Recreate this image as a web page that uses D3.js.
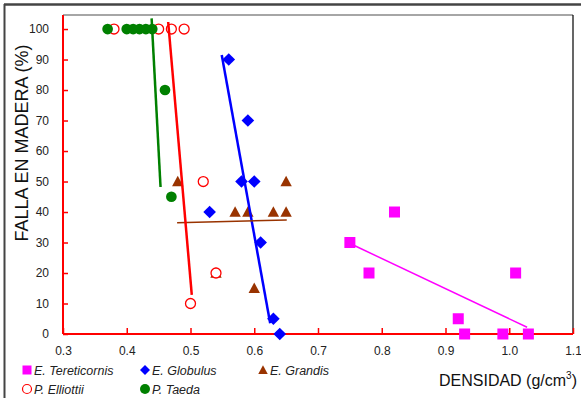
<!DOCTYPE html>
<html>
<head>
<meta charset="utf-8">
<script src="https://cdn.jsdelivr.net/npm/d3@7"></script>
<style>
  html, body { margin: 0; padding: 0; background: #fff; }
  svg { display: block; font-family: "Liberation Sans", Arial, sans-serif; }
</style>
</head>
<body>
<svg id="chart" width="581" height="398"></svg>
<script>
// Wood failure (%) against density (g/cm3) for five species
const xTicks = [0.3, 0.4, 0.5, 0.6, 0.7, 0.8, 0.9, 1.0, 1.1];
const yTicks = [0, 10, 20, 30, 40, 50, 60, 70, 80, 90, 100];

const tereticornisX = [0.75, 0.78, 0.82, 0.92, 0.93, 0.99, 1.01, 1.03];
const tereticornisY = [30, 20, 40, 5, 0, 0, 20, 0];

const globulusX = [0.56, 0.59, 0.58, 0.60, 0.53, 0.61, 0.63, 0.64];
const globulusY = [90, 70, 50, 50, 40, 30, 5, 0];

const grandisX = [0.48, 0.65, 0.57, 0.59, 0.63, 0.65, 0.54, 0.60];
const grandisY = [50, 50, 40, 40, 40, 40, 20, 15];

const elliottiiX = [0.38, 0.45, 0.47, 0.49, 0.52, 0.54, 0.50];
const elliottiiY = [100, 100, 100, 100, 50, 20, 10];

const taedaX = [0.37, 0.40, 0.41, 0.42, 0.43, 0.44, 0.46, 0.47];
const taedaY = [100, 100, 100, 100, 100, 100, 80, 45];

// trend line end points [x, y]
const trendTereticornis = [[0.752, 29.5], [1.028, 2.2]];
const trendGlobulus = [[0.549, 91.5], [0.625, 3.5]];
const trendGrandis = [[0.479, 36.5], [0.651, 37.4]];
const trendElliottii = [[0.465, 102.3], [0.502, 12.8]];
const trendTaeda = [[0.439, 103.5], [0.453, 48.2]];

const svg = d3.select("#chart");
const x = d3.scaleLinear().domain([0.3, 1.1]).range([63, 573]);
const y = d3.scaleLinear().domain([0, 104.6]).range([334, 15]);

// outer frame
svg.append("line").attr("x1", 4).attr("x2", 581).attr("y1", 4.5).attr("y2", 4.5)
  .attr("stroke", "#444").attr("stroke-width", 2.5);
svg.append("line").attr("x1", 4.5).attr("x2", 4.5).attr("y1", 4).attr("y2", 398)
  .attr("stroke", "#444").attr("stroke-width", 2);

// plot box: grey top, black right
svg.append("line").attr("x1", 63).attr("x2", 573).attr("y1", 15).attr("y2", 15)
  .attr("stroke", "#888").attr("stroke-width", 1.5);
svg.append("line").attr("x1", 573).attr("x2", 573).attr("y1", 15).attr("y2", 334)
  .attr("stroke", "#000").attr("stroke-width", 1.2);

// axes
const xAxis = d3.axisBottom(x).tickValues(xTicks).tickFormat(d3.format(".1f"))
  .tickSizeInner(-6).tickSizeOuter(0).tickPadding(12);
const gx = svg.append("g").attr("transform", "translate(0,334)").call(xAxis);
const yAxis = d3.axisLeft(y).tickValues(yTicks).tickFormat(d3.format("d"))
  .tickSizeInner(-5).tickSizeOuter(0).tickPadding(14);
const gy = svg.append("g").attr("transform", "translate(63,0)").call(yAxis);
[gx, gy].forEach(g => {
  g.select(".domain").attr("stroke", "#ff0000").attr("stroke-width", 2);
  g.selectAll(".tick line").attr("stroke", "#ff0000").attr("stroke-width", 1.5);
  g.selectAll(".tick text").attr("fill", "#222").style("font-size", "12px")
    .style("font-family", "Liberation Sans, Arial, sans-serif");
});
gy.select(".domain").attr("d", `M0,${y(0)}V15`);
gx.select(".domain").attr("d", `M${x(0.3)},0H${x(1.1)}`);

// axis titles
svg.append("text").attr("transform", "translate(28,143) rotate(-90)")
  .attr("text-anchor", "middle").attr("fill", "#111").style("font-size", "18px")
  .text("FALLA EN MADERA (%)");
const xt = svg.append("text").attr("x", 577).attr("y", 386).attr("text-anchor", "end")
  .attr("fill", "#111").style("font-size", "16px");
xt.append("tspan").text("DENSIDAD (g/cm");
xt.append("tspan").attr("dy", -7).style("font-size", "10px").text("3");
xt.append("tspan").attr("dy", 7).text(")");

const zip = (xs, ys) => xs.map((v, i) => [v, ys[i]]);
const plot = svg.append("g");

// markers
function squares(data, color) {
  plot.selectAll(null).data(data).enter().append("rect")
    .attr("x", d => x(d[0]) - 5.5).attr("y", d => y(d[1]) - 5.5)
    .attr("width", 11).attr("height", 11).attr("fill", color);
}
function symbols(data, type, size, fill, stroke) {
  plot.selectAll(null).data(data).enter().append("path")
    .attr("d", d3.symbol().type(type).size(size))
    .attr("transform", d => `translate(${x(d[0])},${y(d[1])})`)
    .attr("fill", fill).attr("stroke", stroke || "none").attr("stroke-width", 1.3);
}
const diamond = { draw(ctx, s) { const r = Math.sqrt(s) / 2; ctx.moveTo(0, -r); ctx.lineTo(r, 0); ctx.lineTo(0, r); ctx.lineTo(-r, 0); ctx.closePath(); } };
const tri = { draw(ctx, s) { const w = Math.sqrt(s) / 2; ctx.moveTo(0, -w); ctx.lineTo(w, w * 0.85); ctx.lineTo(-w, w * 0.85); ctx.closePath(); } };

squares(zip(tereticornisX, tereticornisY), "#ff00ff");
symbols(zip(globulusX, globulusY), diamond, 160, "#0000ff");
symbols(zip(grandisX, grandisY), tri, 130, "#993300");
symbols(zip(elliottiiX, elliottiiY), d3.symbolCircle, 78, "#fff", "#ff0000");
symbols(zip(taedaX, taedaY), d3.symbolCircle, 90, "#008000");

// trend lines
const line = d3.line().x(d => x(d[0])).y(d => y(d[1]));
[[trendTereticornis, "#ff00ff", 1.5], [trendGlobulus, "#0000ff", 2.5],
 [trendGrandis, "#993300", 1.5], [trendElliottii, "#ff0000", 2.5],
 [trendTaeda, "#008000", 2.5]].forEach(([pts, c, w]) => {
  plot.append("path").attr("d", line(pts)).attr("fill", "none")
    .attr("stroke", c).attr("stroke-width", w);
});

// legend
const legendItems = [
  { name: "E. Tereticornis", kind: "square", color: "#ff00ff", lx: 27, ly: 370 },
  { name: "E. Globulus", kind: "diamond", color: "#0000ff", lx: 145, ly: 370 },
  { name: "E. Grandis", kind: "tri", color: "#993300", lx: 263, ly: 370 },
  { name: "P. Elliottii", kind: "open", color: "#ff0000", lx: 27, ly: 389 },
  { name: "P. Taeda", kind: "dot", color: "#008000", lx: 145, ly: 389 }
];
const leg = svg.append("g");
legendItems.forEach(it => {
  const g = leg.append("g").attr("transform", `translate(${it.lx},${it.ly})`);
  if (it.kind === "square") g.append("rect").attr("x", -4.5).attr("y", -4.5).attr("width", 9).attr("height", 9).attr("fill", it.color);
  if (it.kind === "diamond") g.append("path").attr("d", d3.symbol().type(diamond).size(100)()).attr("fill", it.color);
  if (it.kind === "tri") g.append("path").attr("d", d3.symbol().type(tri).size(90)()).attr("fill", it.color);
  if (it.kind === "open") g.append("circle").attr("r", 4.5).attr("fill", "#fff").attr("stroke", it.color).attr("stroke-width", 1.2);
  if (it.kind === "dot") g.append("circle").attr("r", 5).attr("fill", it.color);
  g.append("text").attr("x", 7).attr("y", 4.5).attr("fill", "#222")
    .style("font-size", "12.5px").style("font-style", "italic").text(it.name);
});
</script>
</body>
</html>
